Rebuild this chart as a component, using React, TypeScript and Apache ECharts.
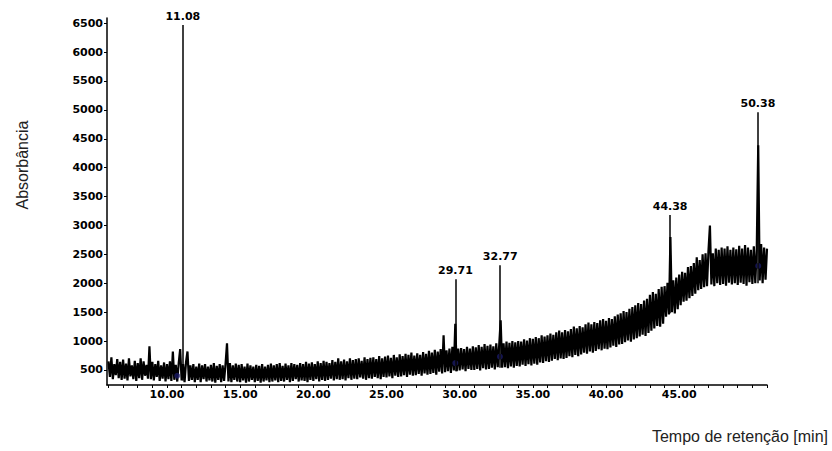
import React, { useEffect, useRef } from "react";
import * as echarts from "echarts";

// Signal sampled every 0.1 min starting at 6.0 min (absorbance units)
const startTime = 6.0;
const step = 0.1;
const signal: number[] = [
  // 6
  650, 380, 720, 340, 600, 410, 690, 360, 640, 330,
  // 7
  680, 350, 610, 320, 700, 390, 580, 340, 660, 310,
  // 8
  620, 360, 700, 330, 650, 400, 590, 350, 910, 340,
  // 9
  640, 320, 600, 380, 660, 310, 580, 350, 630, 300,
  // 10
  600, 340, 650, 310, 820, 330, 590, 300, 620, 860,
  // 11
  320, 600, 290, 640, 820, 310, 580, 330, 600, 290,
  // 12
  560, 330, 610, 290, 580, 340, 600, 300, 560, 320,
  // 13
  590, 300, 620, 280, 570, 330, 600, 290, 580, 310,
  // 14
  600, 960, 300, 620, 290, 580, 330, 610, 300, 590,
  // 15
  290, 600, 320, 560, 280, 610, 300, 580, 330, 560,
  // 16
  290, 590, 310, 570, 280, 600, 300, 560, 320, 590,
  // 17
  290, 610, 300, 580, 320, 600, 290, 620, 310, 570,
  // 18
  300, 610, 330, 580, 290, 620, 310, 600, 340, 590,
  // 19
  300, 620, 320, 600, 310, 640, 290, 610, 330, 630,
  // 20
  310, 600, 340, 650, 300, 620, 330, 660, 310, 640,
  // 21
  330, 620, 350, 670, 320, 640, 340, 700, 330, 650,
  // 22
  340, 680, 320, 650, 360, 700, 330, 670, 350, 690,
  // 23
  340, 700, 370, 660, 350, 720, 330, 690, 360, 710,
  // 24
  350, 720, 380, 690, 360, 740, 340, 700, 380, 730,
  // 25
  370, 750, 390, 710, 360, 760, 400, 720, 380, 770,
  // 26
  390, 740, 410, 780, 380, 760, 420, 800, 400, 750,
  // 27
  410, 790, 430, 760, 400, 810, 440, 780, 420, 830,
  // 28
  430, 800, 450, 850, 420, 820, 470, 860, 440, 1100,
  // 29
  460, 840, 480, 870, 450, 900, 490, 1300, 480, 870,
  // 30
  490, 880, 510, 860, 480, 900, 520, 870, 500, 910,
  // 31
  500, 890, 520, 930, 490, 900, 530, 950, 510, 920,
  // 32
  520, 940, 540, 910, 510, 960, 550, 930, 1360, 540,
  // 33
  960, 550, 990, 530, 970, 560, 1000, 540, 980, 570,
  // 34
  1000, 560, 990, 590, 1030, 570, 1010, 600, 1050, 580,
  // 35
  1040, 610, 1070, 590, 1050, 630, 1100, 620, 1080, 650,
  // 36
  1100, 640, 1130, 660, 1110, 690, 1150, 670, 1180, 700,
  // 37
  1150, 690, 1190, 710, 1170, 740, 1210, 720, 1250, 760,
  // 38
  1220, 740, 1260, 770, 1240, 800, 1290, 780, 1320, 820,
  // 39
  1290, 800, 1330, 830, 1310, 860, 1360, 840, 1380, 870,
  // 40
  1350, 860, 1400, 890, 1380, 920, 1430, 900, 1460, 940,
  // 41
  1480, 950, 1520, 980, 1500, 1010, 1560, 990, 1590, 1030,
  // 42
  1620, 1050, 1660, 1080, 1640, 1110, 1700, 1090, 1730, 1140,
  // 43
  1800, 1180, 1850, 1220, 1820, 1260, 1900, 1250, 1940, 1300,
  // 44
  1950, 1420, 2010, 1460, 2800, 1500, 2050, 1480, 2100, 1550,
  // 45
  2150, 1620, 2200, 1680, 2180, 1700, 2280, 1740, 2300, 1780,
  // 46
  2350, 1820, 2450, 1880, 2400, 1900, 2500, 1930, 2520, 1950,
  // 47
  2560, 3000, 1980, 2520, 1950, 2600, 2000, 2580, 1970, 2620,
  // 48
  1990, 2600, 1960, 2640, 2010, 2580, 1980, 2620, 2000, 2590,
  // 49
  1970, 2650, 2010, 2600, 1990, 2660, 1960, 2620, 2020, 2580,
  // 50
  1990, 2640, 2000, 2600, 4390, 2050, 2680, 2000, 2620, 2060,
  // 51
  2600,
];

// Labelled peaks
const peakTimes = [11.08, 29.71, 32.77, 44.38, 50.38];
const peakTops = [6470, 2070, 2310, 3180, 4960];
const peakBases = [320, 480, 540, 1480, 2000];
const peakLabels = ["11.08", "29.71", "32.77", "44.38", "50.38"];

// Integration marks (dark blue) at peak bases
const markTimes = [10.7, 29.7, 32.75, 50.4];
const markValues = [400, 620, 730, 2300];

// Axis ticks
const xTickValues = [6, 7, 8, 9, 10, 11, 12, 13, 14, 15, 16, 17, 18, 19, 20, 21, 22, 23, 24, 25, 26, 27, 28, 29, 30, 31, 32, 33, 34, 35, 36, 37, 38, 39, 40, 41, 42, 43, 44, 45, 46, 47, 48, 49, 50, 51];
const xLabelValues = [10, 15, 20, 25, 30, 35, 40, 45];
const yLabelValues = [500, 1000, 1500, 2000, 2500, 3000, 3500, 4000, 4500, 5000, 5500, 6000, 6500];

const xName = "Tempo de retenção [min]";
const yName = "Absorbância";

const tickFont = {
  fontFamily: "DejaVu Sans",
  fontWeight: "bold" as const,
  fontSize: 11,
  color: "#000",
};

export default function App() {
  const ref = useRef<HTMLDivElement>(null);

  useEffect(() => {
    if (!ref.current) return;
    const chart = echarts.init(ref.current, null, { renderer: "svg" });

    const lineData = signal.map((v, i) => [
      Math.round((startTime + i * step) * 10) / 10,
      v,
    ]);

    const markLineData = peakTimes.map((t, i) => [
      { coord: [t, peakBases[i]] },
      {
        coord: [t, peakTops[i]],
        label: { formatter: peakLabels[i] },
      },
    ]);

    chart.setOption({
      animation: false,
      backgroundColor: "#fff",
      grid: { left: 107, right: 65, top: 18, bottom: 66 },
      xAxis: {
        type: "value",
        min: 5.9,
        max: 51,
        splitLine: { show: false },
        axisLine: { show: true, lineStyle: { color: "#000", width: 1.5 } },
        axisTick: {
          show: true,
          customValues: xTickValues,
          length: 3,
          lineStyle: { color: "#000", width: 1 },
        },
        axisLabel: {
          customValues: xLabelValues,
          formatter: (v: number) => v.toFixed(2),
          margin: 4,
          ...tickFont,
        },
      },
      yAxis: {
        type: "value",
        min: 240,
        max: 6590,
        splitLine: { show: false },
        axisLine: { show: true, lineStyle: { color: "#000", width: 1.5 } },
        axisTick: {
          show: true,
          customValues: yLabelValues,
          length: 3,
          lineStyle: { color: "#000", width: 1 },
        },
        axisLabel: {
          customValues: yLabelValues,
          formatter: (v: number) => String(v),
          margin: 4,
          ...tickFont,
        },
      },
      series: [
        {
          type: "line",
          data: lineData,
          symbol: "none",
          lineStyle: { color: "#000", width: 2.2 },
          z: 2,
          markLine: {
            silent: true,
            symbol: ["none", "none"],
            lineStyle: { color: "#000", width: 1.5, type: "solid" },
            label: {
              show: true,
              position: "end",
              distance: 3,
              ...tickFont,
            },
            data: markLineData,
          },
        },
        {
          type: "scatter",
          data: markTimes.map((t, i) => [t, markValues[i]]),
          symbolSize: 6,
          itemStyle: { color: "#1c1c70", opacity: 0.7 },
          z: 3,
        },
      ],
      graphic: [
        {
          type: "text",
          x: 22,
          y: 165,
          rotation: Math.PI / 2,
          style: {
            text: yName,
            fontFamily: "Liberation Sans",
            fontSize: 16,
            fill: "#222",
            align: "center",
            verticalAlign: "middle",
          },
        },
        {
          type: "text",
          x: 828,
          y: 436,
          style: {
            text: xName,
            fontFamily: "Liberation Sans",
            fontSize: 16,
            fill: "#222",
            align: "right",
            verticalAlign: "middle",
          },
        },
      ],
    });

    return () => chart.dispose();
  }, []);

  return (
    <div
      ref={ref}
      style={{ position: "absolute", left: 0, top: 0, width: 832, height: 451 }}
    />
  );
}
